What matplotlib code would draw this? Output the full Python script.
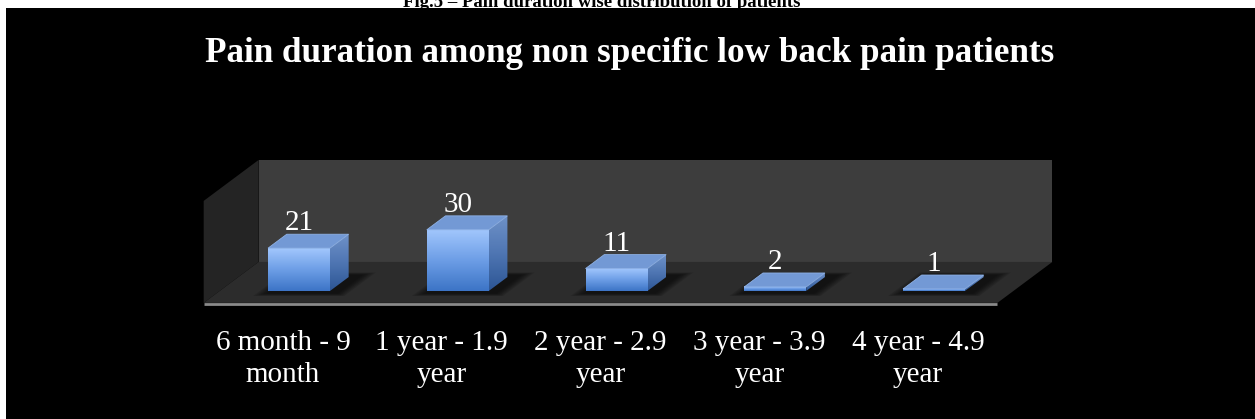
import numpy as np
import matplotlib.pyplot as plt
from matplotlib.patches import Polygon, Rectangle
from matplotlib.colors import LinearSegmentedColormap

categories = ['6 month - 9\nmonth', '1 year - 1.9\nyear', '2 year - 2.9\nyear',
              '3 year - 3.9\nyear', '4 year - 4.9\nyear']
patients = [21, 30, 11, 2, 1]

title = 'Pain duration among non specific low back pain patients'
caption = 'Fig.5 \u2013 Pain duration wise distribution of patients'

plt.rcParams['font.family'] = ['Liberation Serif', 'DejaVu Serif']

W, H = 1255, 419
fig = plt.figure(figsize=(W / 100, H / 100), dpi=100, facecolor='white')
fig.add_artist(Rectangle((6 / W, 0), 1, (H - 8) / H, transform=fig.transFigure,
                         facecolor='black', edgecolor='none', zorder=-1))
# caption of the page figure, cut off by the top edge like in the source
fig.text(602 / W, 1 - 7 / H, caption, ha='center', va='baseline', fontsize=13.5,
         fontweight='bold', color='black', zorder=-2)
fig.text(630 / W, 1 - 62 / H, title, ha='center', va='baseline', fontsize=25.3,
         fontweight='bold', color='white')

# axes in category / value units, placed so the plot sits where the original is
ax = fig.add_axes([0, 0, 1, 1])
ax.set_facecolor('none')
ax.axis('off')
x0px, sx, y0px, sy = 299, 158.75, 291, 2.04

# oblique 3d projection
DX, DY = 0.3465, 20.1
ZF, ZB = 0.29, 0.63      # bar front / back depth
wall_h = 50
bw = 0.39
n = len(patients)


def P(x, y, z):
    return (x + (z - ZF) * DX, y + (z - ZF) * DY)


def poly(pts, **kw):
    p = Polygon(pts, closed=True, **kw)
    ax.add_patch(p)
    return p


lo, hi = -0.5, n - 0.5
poly([P(lo, 0, 1), P(hi, 0, 1), P(hi, wall_h, 1), P(lo, wall_h, 1)],
     facecolor='#3d3d3d', edgecolor='none', zorder=1)
poly([P(lo, 0, 0), P(lo, 0, 1), P(lo, wall_h, 1), P(lo, wall_h, 0)],
     facecolor='#242424', edgecolor='none', zorder=1)
poly([P(lo, 0, 0), P(hi, 0, 0), P(hi, 0, 1), P(lo, 0, 1)],
     facecolor='#2c2c2c', edgecolor='none', zorder=1)
fx0, fy0 = P(lo, 0, 0)
fx1, _ = P(hi, 0, 0)
ax.plot([fx0, fx1], [fy0 - 0.6, fy0 - 0.6], color='#8a8a8a', lw=2,
        solid_capstyle='butt', zorder=2)

front_cmap = LinearSegmentedColormap.from_list('front', ['#3c74c6', '#6d9ee6', '#a2c7fd'])
side_cmap = LinearSegmentedColormap.from_list('side', ['#2c5594', '#4f76b3', '#6f92c8'])
grad = np.linspace(0, 1, 256).reshape(-1, 1)

for i, v in enumerate(patients):
    xl, xr = i - bw / 2, i + bw / 2
    # soft shadow on the floor
    for k in range(6):
        e = 0.012 * (6 - k)
        poly([P(xl - e + 0.02, 0, ZF - 0.05 - e), P(xr + e + 0.06, 0, ZF - 0.05 - e),
              P(xr + e + 0.06, 0, ZB + 0.04 + e), P(xl - e + 0.02, 0, ZB + 0.04 + e)],
             facecolor='black', edgecolor='none', alpha=0.12, zorder=3)
    # front face
    ax.imshow(grad, cmap=front_cmap, origin='lower', aspect='auto',
              extent=[xl, xr, 0, v], zorder=5, interpolation='bilinear')
    # side face
    side = [P(xr, 0, ZF), P(xr, 0, ZB), P(xr, v, ZB), P(xr, v, ZF)]
    sp = poly(side, facecolor='none', edgecolor='none', zorder=4)
    sxs = [p[0] for p in side]
    sys_ = [p[1] for p in side]
    im = ax.imshow(grad, cmap=side_cmap, origin='lower', aspect='auto',
                   extent=[min(sxs), max(sxs), min(sys_), max(sys_)], zorder=4,
                   interpolation='bilinear')
    im.set_clip_path(sp)
    # top face
    poly([P(xl, v, ZF), P(xr, v, ZF), P(xr, v, ZB), P(xl, v, ZB)],
         facecolor='#7399d5', edgecolor='#8fb2e6', lw=0.6, zorder=6)
    tx, ty = P(i, v, ZB)
    ax.text(i, ty + 2, str(v), ha='center', va='baseline', color='white',
            fontsize=21, zorder=7)
    # category label: last line baseline, at the floor front depth
    lx, _ = P(i, 0, 0)
    ax.text(lx, (y0px - 382) / sy, categories[i], ha='center', va='baseline',
            color='white', fontsize=21, linespacing=1.3, zorder=7)

ax.set_xlim(-x0px / sx, (W - x0px) / sx)
ax.set_ylim(-(H - y0px) / sy, y0px / sy)
fig.savefig('out.png', dpi=100, facecolor='white')
